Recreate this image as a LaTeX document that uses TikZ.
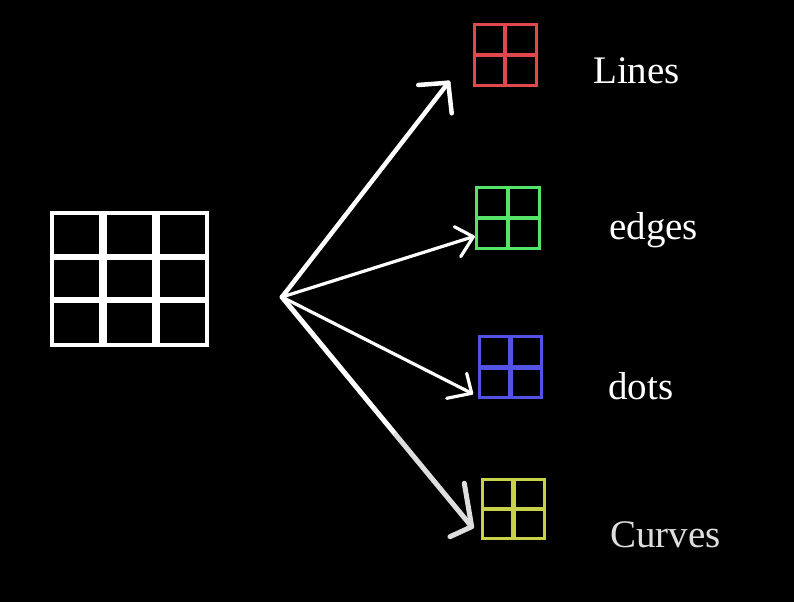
\documentclass[tikz,border=0pt]{standalone}
\usepackage{fontspec}
\setmainfont{Liberation Serif}
\usetikzlibrary{calc}
\definecolor{cred}{RGB}{225,72,78}
\definecolor{cgreen}{RGB}{84,228,104}
\definecolor{cblue}{RGB}{82,82,230}
\definecolor{cyellow}{RGB}{200,210,72}
\definecolor{lgray}{RGB}{222,222,222}
\begin{document}
\begin{tikzpicture}[x=1pt,y=-1pt,
  cell/.style={draw=white, line width=4pt, inner sep=0pt, outer sep=0pt},
  quad/.style={draw=#1, line width=3pt, inner sep=0pt, outer sep=0pt, minimum width=62pt, minimum height=61pt},
  quadmid/.style={draw=#1, line width=4.5pt},
  conn/.style={draw=white, line cap=round, line join=round},
  lbl/.style={anchor=base west, inner sep=0pt, text=white, font=\fontsize{39}{47}\selectfont}]
\fill[black] (0,0) rectangle (794,602);
\useasboundingbox (0,0) rectangle (794,602);
% big 3x3 grid
\node[cell, minimum width=48.7pt, minimum height=42.8pt] (c11) at (76.35,234.1) {};
\node[cell, minimum width=49.3pt, minimum height=42.8pt] (c12) at (129.35,234.1) {};
\node[cell, minimum width=49pt, minimum height=42.8pt] (c13) at (182.5,234.1) {};
\node[cell, minimum width=48.7pt, minimum height=41pt] (c21) at (76.35,278) {};
\node[cell, minimum width=49.3pt, minimum height=41pt] (c22) at (129.35,278) {};
\node[cell, minimum width=49pt, minimum height=41pt] (c23) at (182.5,278) {};
\node[cell, minimum width=48.7pt, minimum height=44.2pt] (c31) at (76.35,322.6) {};
\node[cell, minimum width=49.3pt, minimum height=44.2pt] (c32) at (129.35,322.6) {};
\node[cell, minimum width=49pt, minimum height=44.2pt] (c33) at (182.5,322.6) {};
% small 2x2 grids
\node[quad=cred] (qr) at (505,55.2) {};
\draw[quadmid=cred] (qr.north) -- (qr.south) (qr.west) -- (qr.east);
\node[quad=cgreen, minimum width=62.6pt] (qg) at (508,218.2) {};
\draw[quadmid=cgreen] (qg.north) -- (qg.south) (qg.west) -- (qg.east);
\node[quad=cblue, minimum width=62.5pt, minimum height=61.3pt] (qb) at (510.5,367.3) {};
\draw[quadmid=cblue] (qb.north) -- (qb.south) (qb.west) -- (qb.east);
\node[quad=cyellow, minimum height=59.7pt] (qy) at (513.3,508.9) {};
\draw[quadmid=cyellow] (qy.north) -- (qy.south) (qy.west) -- (qy.east);
% labels
\node[lbl] (l1) at (593,83) {Lines};
\node[lbl] (l2) at (609,239) {edges};
\node[lbl] (l3) at (608,399) {dots};
\node[lbl, text=lgray] (l4) at (610,547) {Curves};
% arrows
\coordinate (o) at (282,297);
\coordinate (t1) at (448.3,82.7);
\coordinate (a1) at (418.3,85);
\coordinate (b1) at (451.7,113.3);
\coordinate (t2) at (473.3,236.7);
\coordinate (a2) at (454.3,226.7);
\coordinate (b2) at (460.7,256.7);
\coordinate (t3) at (471.7,393.3);
\coordinate (a3) at (446.7,398.3);
\coordinate (b3) at (466.7,373.3);
\coordinate (t4) at (471.7,526.7);
\coordinate (a4) at (450,536.7);
\coordinate (b4) at (464.3,483.3);
\coordinate (m4) at ($(o)!0.6!(t4)$);
\draw[conn, line width=4.5pt] (o) -- (t1);
\draw[conn, line width=4.5pt] (a1) -- (t1) -- (b1);
\draw[conn, line width=3.2pt] (o) -- (t2);
\draw[conn, line width=3.2pt] (a2) -- (t2) -- (b2);
\draw[conn, line width=3.2pt] (o) -- (t3);
\draw[conn, line width=3.2pt] (a3) -- (t3) -- (b3);
\draw[conn, line width=5pt] (o) -- (m4);
\draw[conn, line width=5pt, draw=lgray] (m4) -- (t4);
\draw[conn, line width=5pt, draw=lgray] (a4) -- (t4) -- (b4);
\end{tikzpicture}
\end{document}
